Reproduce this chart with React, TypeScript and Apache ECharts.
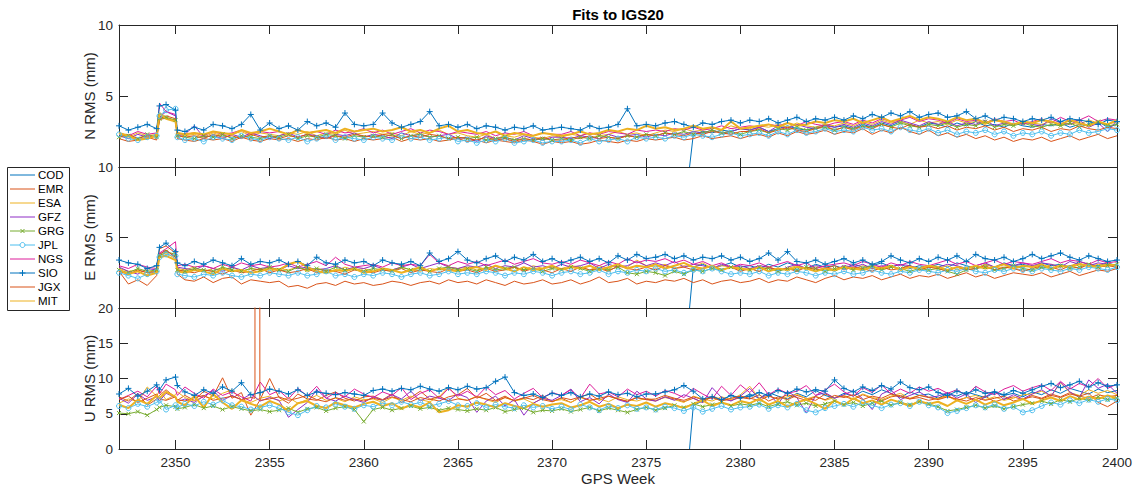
import React, { useEffect, useRef } from "react";
import * as echarts from "echarts";

// ---------- x grid (GPS week) ----------
const HEAD_WEEKS = [2347, 2347.5, 2348, 2348.5, 2349, 2349.15, 2349.5, 2350, 2350.1];
const WEEKS: number[] = HEAD_WEEKS.concat(Array.from({ length: 100 }, (_, i) => 2350.5 + i * 0.5));
const X_TICKS = [2350, 2355, 2360, 2365, 2370, 2375, 2380, 2385, 2390, 2395, 2400];
const X_MIN = 2347;
const X_MAX = 2400;

const NAMES = ["COD", "EMR", "ESA", "GFZ", "GRG", "JPL", "NGS", "SIO", "JGX", "MIT"];

// ---------- N RMS (mm) ----------
const N_COD = [2.3, 2.5, 2.4, 2.6, 2.5, 2.7,
  2.6, 2.8, 2.5, 2.7, 2.9, 2.7, 2.6, 2.8, 3.0, 2.8,
  2.9, 2.7, 3.0, 2.8, 3.1, 2.9, 3.2, 3.0, 2.8, 3.1,
  3.0, 2.8, 3.1, 2.9, 3.2, 2.9, 3.0, 2.8, 3.1, 2.9,
  2.8, 3.0, 2.9, 3.1, 2.8, 3.0, 2.9, 3.2, 2.8, 3.0];
const N_EMR = [2.0, 1.8, 1.9, 2.1, 1.9, 3.3, 3.5, 3.2, 2.0,
  1.9, 1.8, 2.0, 1.9, 2.0, 1.8, 2.1, 1.9, 1.8, 2.0,
  1.9, 2.0, 1.8, 2.0, 1.9, 2.1, 1.9, 2.0, 1.8, 2.0,
  1.9, 2.0, 2.1, 1.8, 2.0, 1.9, 2.0, 1.8, 1.9, 2.0,
  1.8, 1.9, 1.7, 1.9, 1.8, 1.7, 1.9, 1.8, 1.6, 1.8,
  1.7, 1.8, 1.6, 1.7, 1.9, 1.8, 1.7, 1.9, 1.8, 2.0,
  1.9, 2.0, 2.1, 1.9, 2.0, 2.2, 2.0, 2.1, 2.2, 2.0,
  2.2, 2.3, 2.1, 2.4, 2.2, 2.5, 2.3, 2.4, 2.6, 2.3,
  2.5, 2.4, 2.7, 2.3, 2.6, 2.4, 2.8, 2.5, 2.3, 2.6,
  2.2, 2.4, 2.1, 2.3, 2.0, 2.2, 1.9, 2.1, 1.8, 2.0,
  1.9, 2.1, 1.8, 2.0, 2.2, 1.9, 2.1, 2.3, 2.0, 2.2];
const N_ESA = [2.3, 2.1, 2.4, 2.2, 2.3, 3.6, 3.4, 3.3, 2.3,
  2.2, 2.3, 2.1, 2.4, 2.2, 2.3, 2.5, 2.2, 2.4, 2.3,
  2.2, 2.4, 2.3, 2.5, 2.2, 2.4, 2.3, 2.6, 2.3, 2.4,
  2.5, 2.3, 2.4, 2.2, 2.5, 2.3, 2.4, 2.6, 2.3, 2.4,
  2.2, 2.1, 2.3, 2.0, 2.2, 2.1, 2.3, 2.1, 2.0, 2.2,
  2.1, 2.3, 2.2, 2.4, 2.2, 2.3, 2.5, 2.3, 2.4, 2.2,
  2.4, 2.6, 2.5, 2.7, 2.5, 2.6, 2.8, 2.6, 2.9, 2.7,
  2.7, 2.9, 2.8, 3.0, 2.8, 3.1, 2.9, 2.8, 3.0, 2.9,
  3.1, 2.9, 3.2, 3.0, 3.3, 3.1, 3.2, 3.0, 3.3, 3.1,
  3.2, 3.0, 3.3, 3.1, 3.2, 3.0, 3.3, 3.1, 3.0, 3.2,
  3.1, 3.0, 3.2, 2.9, 3.1, 3.0, 3.3, 3.1, 3.0, 3.2];
const N_GFZ = [2.2, 2.0, 2.3, 2.1, 2.2, 3.5, 3.9, 3.6, 2.2,
  2.3, 2.9, 2.1, 2.2, 2.0, 2.3, 2.1, 2.4, 2.2, 2.0,
  2.2, 2.4, 2.1, 2.3, 2.2, 2.0, 2.3, 2.2, 2.4, 2.1,
  2.3, 2.2, 2.0, 2.4, 2.2, 2.3, 2.1, 2.2, 2.3, 2.0,
  2.1, 1.8, 2.2, 2.0, 2.1, 1.9, 2.2, 2.0, 1.9, 2.1,
  2.1, 2.0, 2.2, 2.1, 2.0, 2.3, 2.1, 2.2, 2.3, 2.1,
  2.3, 2.2, 2.4, 2.3, 2.5, 2.4, 2.6, 2.4, 2.5, 2.7,
  2.6, 2.8, 2.5, 2.9, 2.7, 3.0, 2.8, 2.7, 2.9, 2.8,
  3.0, 2.8, 3.1, 2.9, 3.2, 3.0, 3.3, 3.1, 2.9, 3.2,
  3.0, 3.2, 2.9, 3.1, 3.0, 3.3, 2.9, 3.1, 3.0, 3.2,
  3.0, 2.9, 3.4, 3.1, 3.0, 3.3, 2.8, 3.1, 2.5, 3.3];
const N_GRG = [2.1, 2.2, 2.0, 2.3, 2.1, 3.4, 3.5, 3.3, 2.2,
  2.1, 2.0, 2.2, 2.1, 2.3, 2.0, 2.2, 2.1, 2.0, 2.2,
  2.1, 2.3, 2.0, 2.2, 2.1, 2.3, 2.2, 2.0, 2.2, 2.1,
  2.2, 2.1, 2.3, 2.0, 2.2, 2.3, 2.1, 2.2, 2.0, 2.1,
  2.0, 2.1, 1.9, 2.0, 2.1, 1.9, 2.0, 1.9, 2.0, 1.9,
  2.0, 1.9, 2.1, 2.0, 2.2, 2.1, 2.0, 2.2, 2.1, 2.3,
  2.2, 2.4, 2.3, 2.5, 2.3, 2.4, 2.6, 2.4, 2.5, 2.3,
  2.5, 2.6, 2.4, 2.7, 2.6, 2.8, 2.6, 2.7, 2.8, 2.6,
  2.8, 2.7, 2.9, 2.8, 3.0, 2.8, 3.1, 2.9, 2.8, 3.0,
  2.9, 3.1, 2.8, 3.0, 2.9, 3.2, 2.8, 3.0, 2.9, 3.1,
  2.9, 2.8, 3.0, 2.9, 3.1, 2.8, 3.0, 3.2, 2.9, 3.0];
const N_JPL = [2.3, 2.0, 1.9, 2.1, 2.2, 3.6, 4.0, 4.1, 2.1,
  1.9, 2.0, 1.8, 2.1, 2.0, 1.9, 2.2, 2.0, 1.9, 2.1,
  2.0, 1.9, 2.1, 1.8, 2.0, 2.2, 1.9, 2.1, 2.0, 1.9,
  2.1, 2.0, 1.9, 2.2, 2.0, 2.1, 1.9, 2.0, 2.1, 1.8,
  1.9, 1.7, 1.9, 1.8, 2.0, 1.7, 1.8, 1.9, 1.7, 1.8,
  1.8, 1.9, 1.7, 2.0, 1.8, 1.9, 2.0, 1.8, 2.1, 2.0,
  2.1, 2.0, 2.2, 2.1, 2.3, 2.2, 2.1, 2.3, 2.4, 2.2,
  2.3, 2.4, 2.2, 2.5, 2.3, 2.6, 2.4, 2.5, 2.7, 2.5,
  2.6, 2.5, 2.8, 2.6, 2.7, 2.5, 2.8, 2.6, 2.5, 2.7,
  2.4, 2.6, 2.3, 2.5, 2.4, 2.6, 2.3, 2.5, 2.2, 2.4,
  2.3, 2.5, 2.2, 2.4, 2.3, 2.6, 2.4, 2.5, 2.7, 2.6];
const N_NGS = [2.4, 2.2, 2.5, 2.3, 2.4, 4.5, 3.9, 3.7, 2.4,
  2.3, 2.4, 2.2, 2.5, 2.3, 2.4, 2.6, 2.3, 2.5, 2.4,
  2.5, 2.3, 2.6, 2.4, 2.5, 2.3, 2.6, 2.4, 2.5, 2.7,
  2.4, 2.6, 2.3, 2.5, 2.7, 2.4, 2.6, 2.5, 2.3, 2.5,
  2.4, 2.3, 2.5, 2.2, 2.4, 2.3, 2.5, 2.2, 2.4, 2.3,
  2.3, 2.5, 2.2, 2.4, 2.3, 2.5, 2.4, 2.3, 2.6, 2.5,
  2.6, 2.5, 2.7, 2.6, 2.8, 2.6, 2.7, 2.9, 2.7, 2.8,
  2.9, 2.8, 3.0, 2.9, 3.1, 2.9, 3.2, 3.0, 2.9, 3.1,
  3.2, 3.0, 3.3, 3.1, 3.4, 3.2, 3.3, 3.5, 3.2, 3.4,
  3.3, 3.1, 3.4, 3.2, 3.3, 3.1, 3.4, 3.2, 3.3, 3.0,
  3.2, 3.4, 3.1, 3.5, 3.2, 3.3, 3.6, 3.2, 3.4, 3.3];
const N_SIO = [2.9, 2.6, 2.8, 3.0, 2.7, 4.3, 4.4, 4.0, 2.6,
  2.5, 2.8, 2.6, 3.0, 2.9, 2.7, 3.0, 3.7, 2.6, 3.1,
  2.7, 2.9, 2.6, 3.2, 2.9, 3.1, 2.8, 3.8, 3.0, 2.9,
  3.0, 3.8, 3.1, 2.8, 3.0, 3.2, 3.9, 2.9, 3.0, 2.8,
  3.0, 2.7, 2.9, 2.8, 2.6, 2.8, 2.7, 2.9, 2.6, 2.7,
  2.8, 2.7, 2.6, 2.9, 2.7, 2.8, 3.0, 4.1, 2.9, 3.0,
  2.9, 3.1, 3.2, 3.0, 2.8, 3.1, 3.0, 3.2, 3.3, 3.1,
  3.3, 3.2, 3.4, 3.1, 3.3, 3.5, 3.2, 3.4, 3.3, 3.5,
  3.3, 3.6, 3.4, 3.7, 3.5, 3.8, 3.6, 3.9, 3.5, 3.7,
  3.8, 3.5, 3.6, 3.9, 3.4, 3.6, 3.3, 3.5, 3.4, 3.2,
  3.4, 3.3, 3.5, 3.2, 3.4, 3.3, 3.2, 3.0, 3.3, 3.2];
const N_JGX = [2.1, 2.3, 2.0, 2.2, 2.1, 3.4, 3.6, 3.4, 2.2,
  2.1, 2.2, 2.0, 2.3, 2.1, 2.2, 2.0, 2.3, 2.1, 2.2,
  2.0, 2.2, 2.1, 2.3, 2.1, 2.0, 2.2, 2.1, 2.3, 2.2,
  2.1, 2.3, 2.2, 2.0, 2.2, 2.1, 2.3, 2.2, 2.0, 2.1,
  2.0, 1.9, 2.1, 1.9, 2.0, 1.8, 2.0, 1.9, 2.1, 1.9,
  1.9, 2.1, 2.0, 2.2, 2.0, 2.1, 2.0, 2.2, 2.1, 2.3,
  2.2, 2.4, 2.3, 2.2, 2.4, 2.3, 2.5, 2.4, 2.3, 2.5,
  2.5, 2.7, 2.4, 2.6, 2.8, 2.6, 2.5, 2.7, 2.9, 2.6,
  2.8, 2.6, 2.9, 2.7, 3.0, 2.8, 2.7, 3.0, 2.8, 2.9,
  2.7, 2.9, 2.6, 2.8, 2.7, 2.9, 2.6, 2.8, 2.5, 2.7,
  2.6, 2.8, 2.5, 2.7, 2.6, 2.9, 2.7, 2.6, 2.8, 2.7];
const N_MIT = [2.4, 2.2, 1.9, 2.0, 2.2, 3.8, 3.4, 3.2, 2.4,
  2.3, 2.4, 2.3, 2.5, 2.4, 2.3, 2.6, 2.4, 2.5, 2.7,
  2.5, 2.3, 2.6, 2.4, 2.5, 2.6, 2.4, 2.7, 2.5, 2.6,
  2.7, 2.5, 2.6, 2.8, 2.5, 2.6, 2.4, 2.7, 2.9, 2.5,
  2.6, 2.4, 2.3, 2.5, 2.2, 2.4, 2.3, 2.2, 2.4, 2.3,
  2.2, 2.3, 2.5, 2.3, 2.4, 2.6, 2.5, 2.7, 2.6, 2.9,
  2.7, 2.8, 2.6, 2.7, 2.9, 2.7, 2.8, 2.6, 3.2, 2.7,
  2.8, 2.9, 3.0, 2.8, 3.1, 2.9, 3.0, 3.2, 3.1, 3.3,
  3.2, 3.4, 3.1, 3.3, 3.5, 3.2, 3.4, 3.6, 3.3, 3.5,
  3.4, 3.2, 3.5, 3.3, 3.4, 3.1, 3.3, 3.2, 3.0, 3.2,
  3.1, 3.3, 3.2, 3.0, 3.3, 3.1, 2.9, 3.2, 3.0, 3.3];

// ---------- E RMS (mm) ----------
const E_COD = [2.9, 3.1, 2.8, 3.0, 3.2, 2.9,
  3.0, 2.8, 3.1, 2.9, 3.2, 3.0, 2.8, 3.1, 2.9, 3.0,
  2.8, 3.1, 2.9, 3.0, 3.2, 2.9, 3.1, 2.8, 3.0, 2.9,
  3.1, 2.9, 3.2, 3.0, 2.8, 3.1, 2.9, 3.2, 3.0, 3.1,
  2.9, 3.2, 3.0, 3.1, 2.9, 3.3, 3.1, 3.0, 3.2, 3.0];
const E_EMR = [2.6, 1.7, 2.0, 1.6, 2.3, 4.2, 4.4, 3.9, 2.4,
  2.0, 1.9, 2.2, 1.8, 2.1, 2.2, 1.7, 2.0, 1.9, 1.8,
  1.9, 1.5, 1.6, 1.4, 1.7, 1.8, 1.6, 1.9, 1.7, 1.8,
  1.6, 1.7, 1.9, 1.8, 1.6, 1.8, 1.9, 1.7, 2.0, 1.8,
  1.9, 1.7, 2.0, 1.8, 1.6, 1.9, 1.7, 1.8, 2.0, 1.7,
  1.8, 2.0, 1.7, 1.9, 2.2, 1.8, 1.9, 2.1, 1.7, 1.9,
  1.8, 2.0, 1.9, 2.1, 1.8, 2.0, 1.7, 1.9, 2.0, 1.8,
  1.9, 2.1, 1.8, 2.0, 1.9, 2.2, 2.0, 1.8, 2.1, 2.3,
  2.0, 2.2, 2.1, 2.3, 2.0, 2.2, 2.4, 2.1, 2.3, 2.2,
  2.4, 2.1, 2.3, 2.5, 2.2, 2.4, 2.1, 2.3, 2.5, 2.4,
  2.3, 2.5, 2.2, 2.4, 2.6, 2.3, 2.5, 2.7, 2.6, 2.8];
const E_ESA = [2.8, 2.6, 2.7, 2.5, 2.7, 3.7, 3.9, 3.5, 2.8,
  2.7, 2.9, 2.6, 2.8, 2.7, 2.9, 2.6, 2.8, 2.7, 2.6,
  2.8, 2.7, 2.9, 2.6, 2.8, 2.7, 2.6, 2.9, 2.7, 2.8,
  2.6, 2.8, 2.7, 2.9, 2.7, 2.6, 2.8, 2.7, 2.9, 2.8,
  2.9, 2.7, 2.8, 3.0, 2.8, 2.9, 2.7, 3.0, 2.8, 2.9,
  2.8, 3.0, 2.9, 2.7, 3.0, 2.8, 3.1, 2.9, 3.4, 3.0,
  2.9, 3.1, 2.8, 3.0, 2.9, 3.2, 2.8, 3.0, 2.9, 2.7,
  2.8, 2.6, 2.9, 2.7, 2.8, 3.0, 2.7, 2.9, 2.8, 2.6,
  2.9, 2.7, 3.0, 2.8, 2.7, 2.9, 2.8, 3.0, 2.7, 2.9,
  2.8, 3.0, 2.7, 2.9, 2.8, 3.1, 2.9, 2.8, 3.0, 2.9,
  3.0, 2.8, 3.1, 2.9, 3.0, 3.2, 2.9, 3.1, 3.0, 3.1];
const E_GFZ = [2.9, 2.6, 2.4, 2.8, 2.7, 3.8, 4.1, 3.6, 2.9,
  2.8, 2.7, 3.0, 2.8, 2.6, 2.9, 2.7, 3.0, 2.8, 2.9,
  2.7, 3.0, 2.8, 2.9, 2.7, 2.8, 3.0, 2.7, 2.9, 2.8,
  3.0, 2.8, 2.7, 2.9, 3.1, 2.8, 3.0, 3.2, 2.9, 2.8,
  3.0, 2.9, 3.1, 2.8, 3.0, 2.9, 3.2, 2.9, 3.0, 2.8,
  3.1, 2.9, 3.0, 3.2, 2.8, 3.1, 2.9, 3.0, 3.3, 3.0,
  3.2, 3.0, 3.3, 2.9, 3.1, 3.0, 2.8, 3.1, 2.9, 3.0,
  2.8, 3.0, 2.9, 2.6, 2.9, 3.1, 2.8, 3.0, 2.9, 2.7,
  3.0, 2.9, 3.1, 2.8, 3.0, 2.9, 3.1, 3.0, 2.8, 3.0,
  2.9, 3.1, 3.0, 2.8, 3.0, 3.2, 2.9, 3.1, 3.0, 3.2,
  3.0, 3.2, 3.1, 2.9, 3.3, 3.1, 3.0, 3.2, 3.1, 3.0];
const E_GRG = [2.7, 2.5, 2.8, 2.6, 2.7, 3.7, 4.0, 3.8, 2.7,
  2.6, 2.8, 2.7, 2.6, 2.9, 2.7, 2.6, 2.8, 2.7, 2.9,
  2.7, 2.6, 2.9, 2.7, 2.8, 2.6, 2.9, 2.7, 2.8, 2.6,
  2.8, 2.7, 2.6, 2.9, 2.7, 2.8, 2.6, 2.8, 2.9, 2.7,
  2.8, 2.6, 2.9, 2.7, 2.8, 2.9, 2.7, 2.8, 2.6, 2.8,
  2.7, 2.9, 2.8, 2.6, 2.8, 2.7, 2.9, 2.5, 2.4, 2.6,
  2.5, 2.3, 2.6, 2.4, 2.7, 2.6, 2.8, 2.7, 2.9, 2.8,
  2.7, 2.9, 2.8, 2.6, 2.8, 2.7, 2.9, 2.8, 2.6, 2.8,
  2.9, 2.7, 2.8, 3.0, 2.7, 2.9, 2.8, 2.6, 2.8, 2.7,
  2.8, 2.6, 2.4, 2.7, 2.8, 2.9, 2.7, 2.8, 3.0, 2.8,
  2.7, 2.9, 2.8, 3.0, 2.8, 2.9, 3.1, 2.9, 3.0, 3.1];
const E_JPL = [2.5, 2.3, 2.1, 2.4, 2.6, 3.6, 3.8, 3.7, 2.4,
  2.3, 2.2, 2.4, 2.3, 2.5, 2.3, 2.2, 2.4, 2.3, 2.5,
  2.4, 2.3, 2.5, 2.3, 2.4, 2.6, 2.3, 2.4, 2.2, 2.4,
  2.3, 2.5, 2.4, 2.2, 2.4, 2.5, 2.3, 2.4, 2.6, 2.4,
  2.5, 2.4, 2.6, 2.5, 2.3, 2.5, 2.4, 2.6, 2.5, 2.3,
  2.5, 2.6, 2.4, 2.5, 2.7, 2.4, 2.6, 2.5, 2.7, 2.6,
  2.8, 2.6, 2.7, 2.5, 2.7, 2.6, 2.8, 2.6, 2.4, 2.5,
  2.4, 2.6, 2.3, 2.5, 2.4, 2.6, 2.5, 2.3, 2.5, 2.4,
  2.6, 2.4, 2.5, 2.7, 2.5, 2.4, 2.6, 2.5, 2.7, 2.6,
  2.5, 2.7, 2.6, 2.8, 2.6, 2.5, 2.7, 2.6, 2.8, 2.7,
  2.6, 2.8, 2.7, 2.6, 2.8, 2.7, 2.9, 2.8, 2.7, 2.9];
const E_NGS = [3.0, 2.8, 3.1, 2.9, 2.8, 3.9, 4.2, 4.7, 3.0,
  3.1, 2.9, 3.0, 2.8, 3.1, 2.9, 3.2, 3.0, 3.1, 2.9,
  3.0, 3.2, 2.9, 3.1, 3.3, 3.0, 3.6, 3.1, 2.9, 3.0,
  3.1, 2.9, 3.2, 3.0, 3.1, 3.0, 3.8, 3.2, 3.0, 3.3,
  3.1, 3.3, 3.0, 3.2, 3.4, 3.1, 3.3, 3.5, 3.2, 3.1,
  3.3, 3.1, 3.4, 3.2, 3.0, 3.3, 3.1, 3.5, 3.2, 3.4,
  3.3, 3.5, 3.2, 3.4, 3.1, 3.3, 3.0, 3.2, 2.9, 3.1,
  3.0, 3.2, 2.9, 3.1, 3.3, 3.0, 3.2, 2.8, 3.0, 3.1,
  3.2, 3.0, 3.3, 3.1, 2.9, 3.2, 3.0, 3.3, 3.1, 3.0,
  3.2, 3.4, 3.1, 3.3, 3.0, 3.2, 3.4, 3.1, 3.3, 3.2,
  3.1, 3.3, 3.5, 3.2, 3.4, 3.3, 3.1, 3.4, 3.2, 3.3];
const E_SIO = [3.4, 3.2, 3.1, 2.8, 3.0, 4.3, 4.6, 4.0, 3.2,
  3.0, 3.3, 3.1, 3.4, 3.2, 3.0, 3.5, 3.1, 3.3, 3.2,
  3.4, 3.1, 3.3, 3.0, 3.6, 3.2, 3.1, 3.4, 3.2, 3.3,
  3.0, 3.4, 3.2, 3.1, 3.3, 3.0, 3.9, 3.3, 3.5, 4.0,
  3.4, 3.2, 3.5, 3.7, 3.3, 3.6, 3.4, 3.8, 3.3, 3.5,
  3.2, 3.4, 3.6, 3.3, 3.5, 3.2, 3.7, 3.4, 3.8, 3.5,
  3.6, 3.8, 3.5, 3.7, 3.4, 3.6, 3.5, 3.7, 3.4, 3.6,
  3.3, 3.5, 3.9, 3.4, 4.0, 3.3, 3.2, 3.4, 3.1, 3.3,
  3.5, 3.2, 3.4, 3.1, 3.3, 3.7, 3.4, 3.2, 3.5, 3.3,
  3.6, 3.4, 3.7, 3.3, 3.8, 3.5, 3.4, 3.6, 3.3, 3.5,
  3.8, 3.5, 3.7, 3.9, 3.6, 3.4, 3.7, 3.5, 3.3, 3.4];
const E_JGX = [2.6, 2.4, 2.7, 2.5, 2.6, 3.8, 4.1, 3.6, 2.7,
  2.6, 2.5, 2.7, 2.6, 2.4, 2.7, 2.5, 2.6, 2.8, 2.5,
  2.7, 2.5, 2.6, 2.8, 2.5, 2.7, 2.6, 2.4, 2.7, 2.6,
  2.5, 2.7, 2.6, 2.8, 2.5, 2.7, 2.6, 2.5, 2.8, 2.6,
  2.7, 2.5, 2.8, 2.6, 2.7, 2.9, 2.6, 2.8, 2.7, 2.5,
  2.8, 2.6, 2.9, 2.7, 2.8, 2.6, 3.0, 2.8, 2.7, 2.9,
  2.7, 3.0, 2.8, 2.9, 2.7, 2.8, 3.0, 2.7, 2.9, 2.6,
  2.8, 2.6, 2.9, 2.7, 2.8, 2.6, 2.9, 2.7, 2.8, 3.0,
  2.7, 2.9, 2.8, 2.6, 2.9, 2.7, 2.8, 3.0, 2.7, 2.9,
  2.8, 2.6, 2.9, 2.7, 2.8, 3.0, 2.7, 2.9, 2.8, 2.6,
  2.8, 3.0, 2.9, 2.7, 3.0, 2.8, 3.1, 2.9, 3.0, 2.9];
const E_MIT = [2.7, 2.4, 2.6, 2.3, 2.5, 3.6, 3.7, 3.4, 2.6,
  2.5, 2.7, 2.6, 2.4, 2.8, 2.6, 2.7, 2.5, 2.6, 2.8,
  2.7, 3.1, 3.3, 2.9, 2.6, 2.5, 2.7, 2.6, 2.8, 2.5,
  2.6, 2.8, 2.7, 2.5, 2.7, 2.9, 2.6, 2.8, 2.7, 2.6,
  2.8, 2.9, 2.7, 3.0, 2.8, 2.6, 2.9, 2.7, 2.8, 3.0,
  2.7, 2.9, 2.8, 3.0, 2.7, 2.9, 3.1, 2.8, 3.0, 2.9,
  3.1, 2.8, 3.0, 3.2, 2.9, 2.8, 3.0, 2.7, 2.9, 2.8,
  2.7, 2.9, 2.6, 2.8, 2.7, 2.9, 2.8, 2.6, 2.8, 2.7,
  2.9, 2.8, 2.7, 2.9, 2.8, 3.0, 2.7, 2.9, 2.8, 3.0,
  2.9, 2.7, 2.9, 2.8, 3.0, 2.8, 2.9, 3.1, 2.8, 3.0,
  2.9, 3.1, 2.8, 3.0, 2.9, 3.1, 3.0, 2.9, 3.1, 3.0];

// ---------- U RMS (mm) ----------
const U_COD = [6.2, 6.8, 7.4, 6.9, 7.6, 7.1,
  7.8, 7.2, 8.0, 7.5, 7.1, 7.9, 7.4, 8.3, 7.6, 7.2,
  7.9, 7.5, 8.2, 7.7, 8.4, 7.9, 7.3, 8.1, 7.6, 7.8,
  7.2, 7.9, 7.5, 8.1, 7.7, 7.3, 8.0, 7.6, 7.9, 7.4,
  8.1, 7.7, 8.4, 7.9, 8.6, 8.2, 7.8, 8.5, 8.0, 8.3];
const U_EMR = [7.4, 6.8, 7.9, 6.2, 7.1, 7.6, 8.4, 7.3, 6.9,
  7.6, 6.9, 8.2, 7.5, 10.1, 7.2, 8.0, 4.8, 7.0, 10.0,
  7.3, 6.5, 7.8, 7.1, 6.9, 7.6, 8.1, 7.2, 6.8, 7.4,
  7.5, 7.0, 7.8, 6.6, 7.3, 8.2, 7.1, 6.8, 7.4, 7.7,
  8.6, 7.2, 7.9, 6.9, 7.5, 6.8, 7.3, 7.0, 7.6, 6.7,
  7.2, 6.6, 7.4, 7.8, 6.9, 7.5, 7.1, 6.7, 7.3, 7.0,
  6.8, 7.4, 7.1, 6.7, 7.2, 6.6, 7.5, 7.0, 6.9, 7.3,
  7.1, 7.7, 6.8, 7.4, 7.0, 7.6, 7.2, 6.9, 7.8, 7.3,
  7.5, 7.0, 7.7, 7.2, 6.8, 7.4, 7.6, 7.1, 7.3, 6.9,
  7.2, 7.6, 6.9, 7.3, 7.0, 7.5, 6.7, 7.1, 7.4, 7.0,
  7.6, 7.2, 7.8, 7.4, 8.0, 7.5, 7.9, 6.6, 6.0, 6.8];
const U_ESA = [6.5, 7.1, 6.7, 8.8, 7.5, 8.3, 7.0, 7.7, 8.1,
  7.3, 6.8, 7.5, 7.1, 7.9, 8.4, 7.0, 6.6, 7.2, 7.5,
  6.8, 7.3, 6.5, 7.0, 7.6, 6.9, 7.2, 6.7, 7.4, 7.0,
  7.1, 6.6, 7.3, 6.9, 7.5, 7.0, 6.7, 7.4, 8.8, 7.2,
  6.9, 7.5, 7.0, 6.6, 7.3, 6.8, 7.1, 6.5, 7.2, 6.8,
  7.0, 6.6, 7.3, 6.9, 7.1, 6.7, 7.4, 7.0, 6.8, 7.2,
  6.9, 7.3, 7.0, 6.6, 7.5, 7.1, 6.8, 7.4, 7.0, 7.7,
  8.9, 7.2, 7.6, 7.0, 7.4, 7.8, 7.1, 7.5, 6.9, 7.3,
  7.6, 7.1, 7.8, 7.3, 7.0, 7.5, 7.9, 7.2, 7.6, 7.4,
  7.1, 7.5, 6.8, 7.3, 7.6, 7.0, 7.4, 6.9, 7.2, 7.7,
  7.8, 8.2, 7.5, 9.4, 8.0, 7.6, 8.4, 7.9, 8.3, 7.7];
const U_GFZ = [7.2, 6.5, 7.8, 6.9, 7.4, 6.8, 7.9, 7.3, 6.7,
  7.1, 6.6, 7.5, 8.3, 6.9, 7.6, 7.0, 7.8, 6.8, 7.3,
  6.9, 4.5, 5.6, 6.6, 8.4, 7.2, 6.8, 7.5, 7.0, 6.6,
  7.4, 6.9, 7.7, 7.1, 8.2, 6.8, 7.5, 7.2, 6.9, 7.8,
  7.3, 5.2, 6.8, 7.5, 6.1, 7.0, 4.8, 6.5, 7.2, 6.9,
  7.6, 8.5, 6.7, 7.3, 6.4, 7.8, 7.0, 6.6, 8.2, 7.1,
  6.8, 7.4, 6.9, 7.7, 7.2, 6.6, 8.7, 7.3, 6.8, 7.5,
  8.6, 7.1, 7.9, 6.4, 8.2, 7.3, 5.1, 7.6, 8.0, 7.2,
  7.7, 8.3, 7.1, 5.6, 7.8, 8.4, 7.0, 7.6, 8.1, 7.3,
  7.5, 8.0, 7.2, 7.8, 6.6, 7.4, 8.2, 7.0, 7.7, 7.1,
  7.8, 8.4, 7.5, 9.5, 8.1, 7.3, 9.8, 8.6, 9.2, 7.9];
const U_GRG = [5.1, 5.0, 5.3, 4.8, 5.6, 5.9, 6.2, 6.0, 5.7,
  5.9, 6.3, 5.8, 6.1, 5.6, 6.0, 5.7, 5.4, 5.6, 5.3,
  5.5, 5.8, 5.2, 5.7, 5.9, 5.4, 5.8, 6.0, 5.6, 3.9,
  5.6, 5.9, 5.5, 5.8, 6.1, 5.7, 5.9, 5.5, 5.8, 5.6,
  5.4, 5.7, 5.5, 5.9, 5.3, 5.6, 5.8, 5.2, 5.5, 5.4,
  5.7, 5.3, 5.6, 5.9, 5.4, 5.8, 5.5, 5.2, 5.6, 5.9,
  5.5, 5.8, 6.2, 5.9, 6.4, 6.0, 6.3, 6.6, 6.1, 6.4,
  6.2, 6.5, 6.0, 6.4, 6.7, 6.2, 6.5, 6.1, 6.4, 6.8,
  6.3, 6.6, 6.1, 6.5, 6.8, 6.2, 6.6, 6.3, 6.7, 6.4,
  6.0, 5.4, 5.6, 5.9, 6.2, 5.8, 6.1, 5.7, 6.0, 6.3,
  6.5, 6.8, 6.4, 7.0, 6.7, 7.2, 6.9, 7.4, 7.0, 7.2];
const U_JPL = [6.1, 5.8, 6.4, 6.0, 6.6, 6.9, 5.6, 6.2, 5.9,
  6.4, 6.1, 6.7, 6.3, 6.9, 6.2, 6.0, 5.6, 5.9, 6.2,
  5.8, 5.2, 4.8, 5.5, 6.1, 5.9, 6.4, 6.0, 5.7, 6.2,
  6.0, 6.5, 6.2, 6.7, 6.3, 6.6, 6.1, 6.4, 6.8, 6.2,
  6.1, 6.5, 5.9, 6.3, 6.0, 5.8, 6.2, 5.9, 6.1, 5.7,
  6.0, 5.6, 6.3, 5.9, 5.5, 6.1, 5.8, 6.2, 5.7, 5.9,
  5.6, 6.0, 5.8, 5.4, 5.9, 5.3, 5.7, 6.1, 5.6, 5.9,
  6.0, 6.3, 5.7, 6.2, 5.9, 6.4, 5.5, 5.2, 5.8, 6.1,
  6.4, 6.0, 6.6, 6.2, 5.8, 6.3, 6.5, 6.1, 6.7, 6.2,
  5.9, 5.1, 5.4, 5.8, 6.2, 5.9, 6.3, 5.7, 6.0, 5.2,
  5.5, 6.1, 6.6, 6.3, 6.9, 6.5, 7.0, 6.7, 7.1, 6.9];
const U_NGS = [7.0, 7.6, 8.2, 7.4, 8.9, 7.8, 9.2, 8.4, 7.6,
  8.8, 7.9, 7.2, 8.5, 7.6, 8.1, 7.4, 6.8, 9.5, 7.7,
  8.3, 7.1, 8.6, 7.5, 8.9, 7.2, 8.0, 7.4, 8.5, 7.8,
  7.3, 8.1, 7.6, 8.7, 7.0, 7.9, 8.4, 7.2, 8.6, 7.5,
  8.2, 7.4, 8.8, 7.7, 8.3, 7.1, 7.9, 8.6, 7.3, 8.0,
  7.6, 8.4, 7.2, 9.2, 7.8, 8.1, 7.4, 8.5, 7.7, 8.2,
  7.5, 8.3, 7.9, 7.3, 8.6, 7.8, 7.1, 8.9, 7.6, 9.1,
  8.0, 9.4, 7.7, 8.5, 7.9, 8.2, 9.0, 7.6, 8.4, 9.2,
  8.1, 7.5, 8.7, 8.0, 9.1, 7.8, 8.5, 7.9, 8.8, 8.2,
  8.6, 7.9, 8.4, 7.6, 8.9, 8.1, 7.7, 8.5, 9.0, 8.2,
  8.7, 9.1, 8.3, 9.6, 8.5, 9.3, 8.8, 10.0, 8.6, 9.2];
const U_SIO = [7.8, 8.6, 7.5, 8.2, 9.1, 8.4, 9.8, 10.2, 9.0,
  8.1, 7.6, 8.4, 7.9, 8.8, 8.2, 9.4, 7.7, 8.0, 8.5,
  8.2, 7.8, 8.4, 7.6, 8.1, 7.9, 7.7, 8.0, 7.8, 7.6,
  8.3, 8.5, 8.2, 8.6, 8.4, 8.9, 8.5, 8.2, 8.7, 8.4,
  8.9, 8.5, 8.7, 9.6, 10.2, 8.0, 7.6, 7.8, 7.3, 7.9,
  7.6, 8.0, 7.4, 7.8, 7.5, 8.1, 7.7, 7.9, 7.4, 7.8,
  7.8, 8.1, 8.4, 9.0, 8.2, 7.1, 7.4, 7.0, 7.6, 7.3,
  7.5, 8.0, 7.6, 8.3, 7.9, 8.5, 8.1, 8.4, 8.2, 9.8,
  8.6, 8.1, 8.8, 8.3, 9.0, 8.5, 9.5, 8.7, 8.4, 8.8,
  8.0, 7.6, 8.2, 7.8, 8.4, 7.9, 8.1, 7.7, 8.3, 7.9,
  8.4, 8.9, 9.3, 8.7, 9.1, 9.6, 8.8, 9.4, 8.9, 9.1];
const U_JGX = [7.0, 7.5, 6.6, 7.2, 7.8, 7.1, 6.9, 7.4, 7.0,
  6.8, 7.3, 7.6, 6.9, 7.2, 7.5, 7.0, 7.3, 6.9, 7.1,
  7.4, 6.9, 7.2, 7.6, 7.0, 6.7, 7.3, 6.9, 7.1, 6.8,
  7.2, 6.9, 7.4, 7.0, 6.7, 7.3, 7.0, 7.5, 6.8, 7.1,
  6.9, 7.4, 7.1, 6.8, 7.3, 6.9, 7.2, 7.6, 7.0, 6.7,
  7.3, 7.0, 7.4, 6.9, 7.2, 7.5, 7.1, 6.8, 7.3, 7.0,
  7.1, 7.6, 7.2, 6.9, 7.4, 7.0, 7.3, 6.8, 7.2, 7.5,
  7.2, 6.9, 7.5, 7.1, 7.7, 7.3, 6.9, 7.4, 7.0, 7.6,
  7.3, 7.7, 7.0, 7.5, 7.2, 7.8, 7.4, 7.1, 7.6, 7.3,
  7.0, 7.4, 7.1, 6.8, 7.3, 6.9, 7.2, 7.5, 6.8, 7.1,
  7.4, 7.1, 7.6, 7.3, 7.8, 7.5, 7.2, 7.7, 7.4, 7.6];
const U_MIT = [6.3, 5.8, 7.0, 6.4, 7.6, 7.2, 8.1, 7.4, 6.7,
  6.2, 7.5, 5.9, 7.8, 6.6, 5.7, 6.9, 6.4, 6.0, 6.8,
  6.3, 5.4, 6.5, 6.8, 6.1, 5.8, 6.6, 6.2, 5.9, 6.4,
  6.7, 6.1, 6.5, 5.7, 6.3, 5.9, 6.6, 5.2, 5.5, 6.2,
  6.0, 6.6, 6.3, 5.9, 6.5, 6.1, 5.8, 6.4, 6.0, 6.3,
  6.5, 5.9, 6.2, 6.7, 6.0, 6.4, 5.8, 6.3, 6.1, 6.6,
  6.0, 6.5, 6.2, 5.8, 6.4, 6.9, 6.1, 6.6, 6.2, 6.8,
  6.5, 7.1, 6.3, 6.8, 6.0, 6.6, 7.0, 6.4, 5.7, 6.9,
  6.2, 7.2, 6.5, 6.9, 6.3, 7.0, 6.6, 6.1, 6.8, 6.4,
  6.7, 6.1, 6.9, 6.4, 7.0, 6.3, 6.8, 6.2, 6.6, 7.1,
  6.4, 6.9, 7.3, 6.8, 7.5, 7.0, 7.4, 7.1, 7.6, 7.2];

// Irregular events: COD series begins at week 2377.3 from 0; JGX U outlier spike (off scale)
const COD_START = [[2377.3, 0]];
const JGX_U_SPIKE = [[2354.22, 7.2], [2354.25, 500], [2354.45, 500], [2354.48, 7.0]];

const PANEL_DATA: Record<string, number[]>[] = [
  { COD: N_COD, EMR: N_EMR, ESA: N_ESA, GFZ: N_GFZ, GRG: N_GRG, JPL: N_JPL, NGS: N_NGS, SIO: N_SIO, JGX: N_JGX, MIT: N_MIT },
  { COD: E_COD, EMR: E_EMR, ESA: E_ESA, GFZ: E_GFZ, GRG: E_GRG, JPL: E_JPL, NGS: E_NGS, SIO: E_SIO, JGX: E_JGX, MIT: E_MIT },
  { COD: U_COD, EMR: U_EMR, ESA: U_ESA, GFZ: U_GFZ, GRG: U_GRG, JPL: U_JPL, NGS: U_NGS, SIO: U_SIO, JGX: U_JGX, MIT: U_MIT },
];
const Y_NAMES = ["N RMS (mm)", "E RMS (mm)", "U RMS (mm)"];
const Y_MAX = [10, 10, 20];

// ---------- styling ----------
const FONT = "'Liberation Sans', Arial, Helvetica, sans-serif";
const AX = "#262626";
const PANELS_LAYOUT = [
  { top: 25, height: 142 },
  { top: 167, height: 141 },
  { top: 308, height: 141 },
];
const GRID_LEFT = 119;
const GRID_RIGHT = 20;

const STYLE: Record<string, { color: string; width?: number; symbol?: string; size?: number; mark?: string }> = {
  COD: { color: "#0072BD" },
  EMR: { color: "#D95319" },
  ESA: { color: "#EDB120" },
  GFZ: { color: "#8E2DC5" },
  GRG: { color: "#77AC30", symbol: "path://M0 0L10 10M10 0L0 10", size: 4, mark: "x" },
  JPL: { color: "#4DBEEE", symbol: "circle", size: 5, mark: "o" },
  NGS: { color: "#DD1C9A" },
  SIO: { color: "#0072BD", symbol: "path://M5 0L5 10M0 5L10 5", size: 6, mark: "+" },
  JGX: { color: "#D95319" },
  MIT: { color: "#EDB120", width: 2 },
};

// legend box placement
const LEG = { x: 7.5, y: 167.5, w: 62, h: 143, firstY: 175, step: 14, lineX1: 10, lineX2: 35, textX: 38 };

function toPairs(vals: number[], extra: number[][] = []) {
  const offset = WEEKS.length - vals.length;
  const pts: any[] = vals.map((v, i) => [WEEKS[i + offset], v]);
  return pts.concat(extra).sort((a, b) => a[0] - b[0]);
}

function legendGraphics() {
  const els: any[] = [
    {
      type: "rect",
      shape: { x: LEG.x, y: LEG.y, width: LEG.w, height: LEG.h },
      style: { fill: "#fff", stroke: AX, lineWidth: 1 },
      z: 10,
    },
  ];
  NAMES.forEach((name, i) => {
    const st = STYLE[name];
    const cy = LEG.firstY + LEG.step * i;
    const mx = (LEG.lineX1 + LEG.lineX2) / 2;
    els.push({
      type: "line",
      shape: { x1: LEG.lineX1, y1: cy, x2: LEG.lineX2, y2: cy },
      style: { stroke: st.color, lineWidth: 1 },
      z: 11,
    });
    if (st.mark === "x") {
      els.push({ type: "line", shape: { x1: mx - 2, y1: cy - 2, x2: mx + 2, y2: cy + 2 }, style: { stroke: st.color, lineWidth: 1 }, z: 11 });
      els.push({ type: "line", shape: { x1: mx - 2, y1: cy + 2, x2: mx + 2, y2: cy - 2 }, style: { stroke: st.color, lineWidth: 1 }, z: 11 });
    } else if (st.mark === "o") {
      els.push({ type: "circle", shape: { cx: mx, cy, r: 2.5 }, style: { fill: "#fff", stroke: st.color, lineWidth: 1 }, z: 11 });
    } else if (st.mark === "+") {
      els.push({ type: "line", shape: { x1: mx - 3, y1: cy, x2: mx + 3, y2: cy }, style: { stroke: st.color, lineWidth: 1 }, z: 11 });
      els.push({ type: "line", shape: { x1: mx, y1: cy - 3, x2: mx, y2: cy + 3 }, style: { stroke: st.color, lineWidth: 1 }, z: 11 });
    }
    els.push({
      type: "text",
      x: LEG.textX,
      y: cy,
      style: {
        text: name,
        fill: "#000",
        fontSize: 11.5,
        fontFamily: FONT,
        align: "left",
        verticalAlign: "middle",
        textAlign: "left",
        textVerticalAlign: "middle",
      },
      z: 11,
    });
  });
  return els;
}

function buildOption() {
  const grid = PANELS_LAYOUT.map((p) => ({ left: GRID_LEFT, right: GRID_RIGHT, top: p.top, height: p.height }));
  const xAxis: any[] = [];
  const yAxis: any[] = [];
  PANELS_LAYOUT.forEach((_, g) => {
    const base = {
      gridIndex: g,
      type: "value",
      min: X_MIN,
      max: X_MAX,
      axisLine: { show: true, onZero: false, lineStyle: { color: AX, width: 1 } },
      axisTick: { show: true, inside: true, length: 9, customValues: X_TICKS, lineStyle: { color: AX, width: 1 } },
      splitLine: { show: false },
    };
    xAxis.push({
      ...base,
      position: "bottom",
      axisLabel: {
        show: g === 2,
        customValues: X_TICKS,
        formatter: (v: number) => String(v),
        color: AX,
        fontSize: 13.5,
        fontFamily: FONT,
        margin: 6,
      },
    });
    xAxis.push({ ...base, position: "top", axisLabel: { show: false } });
    const ybase = {
      gridIndex: g,
      type: "value",
      min: 0,
      max: Y_MAX[g],
      interval: 5,
      axisLine: { show: true, onZero: false, lineStyle: { color: AX, width: 1 } },
      axisTick: { show: true, inside: true, length: 9, lineStyle: { color: AX, width: 1 } },
      splitLine: { show: false },
    };
    yAxis.push({
      ...ybase,
      position: "left",
      axisLabel: {
        show: true,
        showMinLabel: g === 2,
        showMaxLabel: true,
        color: AX,
        fontSize: 13.5,
        fontFamily: FONT,
        margin: 6,
      },
    });
    yAxis.push({ ...ybase, position: "right", axisLabel: { show: false } });
  });

  const series: any[] = [];
  PANEL_DATA.forEach((panel, g) => {
    NAMES.forEach((name) => {
      const st = STYLE[name];
      let extra: number[][] = [];
      if (name === "COD") extra = COD_START;
      if (name === "JGX" && g === 2) extra = JGX_U_SPIKE;
      series.push({
        type: "line",
        name,
        xAxisIndex: g * 2,
        yAxisIndex: g * 2,
        data: toPairs(panel[name], extra),
        symbol: st.symbol || "none",
        symbolSize: st.size || 4,
        showSymbol: !!st.symbol,
        clip: true,
        silent: true,
        emphasis: { disabled: true },
        lineStyle: { color: st.color, width: st.width || 1 },
        itemStyle: { color: "rgba(0,0,0,0)", borderColor: st.color, borderWidth: 1 },
      });
    });
  });

  const textStyleBase = {
    fontFamily: FONT,
    align: "center",
    verticalAlign: "middle",
    textAlign: "center",
    textVerticalAlign: "middle",
  };
  const graphic: any[] = [
    { type: "text", x: 618, y: 14.5, style: { ...textStyleBase, text: "Fits to IGS20", fill: "#000", fontSize: 15, fontWeight: "bold" } },
    { type: "text", x: 618, y: 478, style: { ...textStyleBase, text: "GPS Week", fill: AX, fontSize: 15 } },
  ];
  PANELS_LAYOUT.forEach((p, g) => {
    graphic.push({
      type: "text",
      x: 89,
      y: p.top + p.height / 2,
      rotation: Math.PI / 2,
      style: { ...textStyleBase, text: Y_NAMES[g], fill: AX, fontSize: 15 },
    });
  });
  graphic.push(...legendGraphics());

  return {
    animation: false,
    backgroundColor: "#fff",
    textStyle: { fontFamily: FONT },
    grid,
    xAxis,
    yAxis,
    series,
    graphic,
  };
}

export default function App() {
  const ref = useRef<HTMLDivElement>(null);
  useEffect(() => {
    document.body.style.margin = "0";
    if (!ref.current) return;
    const chart = echarts.init(ref.current, undefined, { renderer: "svg" });
    chart.setOption(buildOption() as any);
    return () => chart.dispose();
  }, []);
  return <div ref={ref} style={{ width: 1137, height: 489 }} />;
}
